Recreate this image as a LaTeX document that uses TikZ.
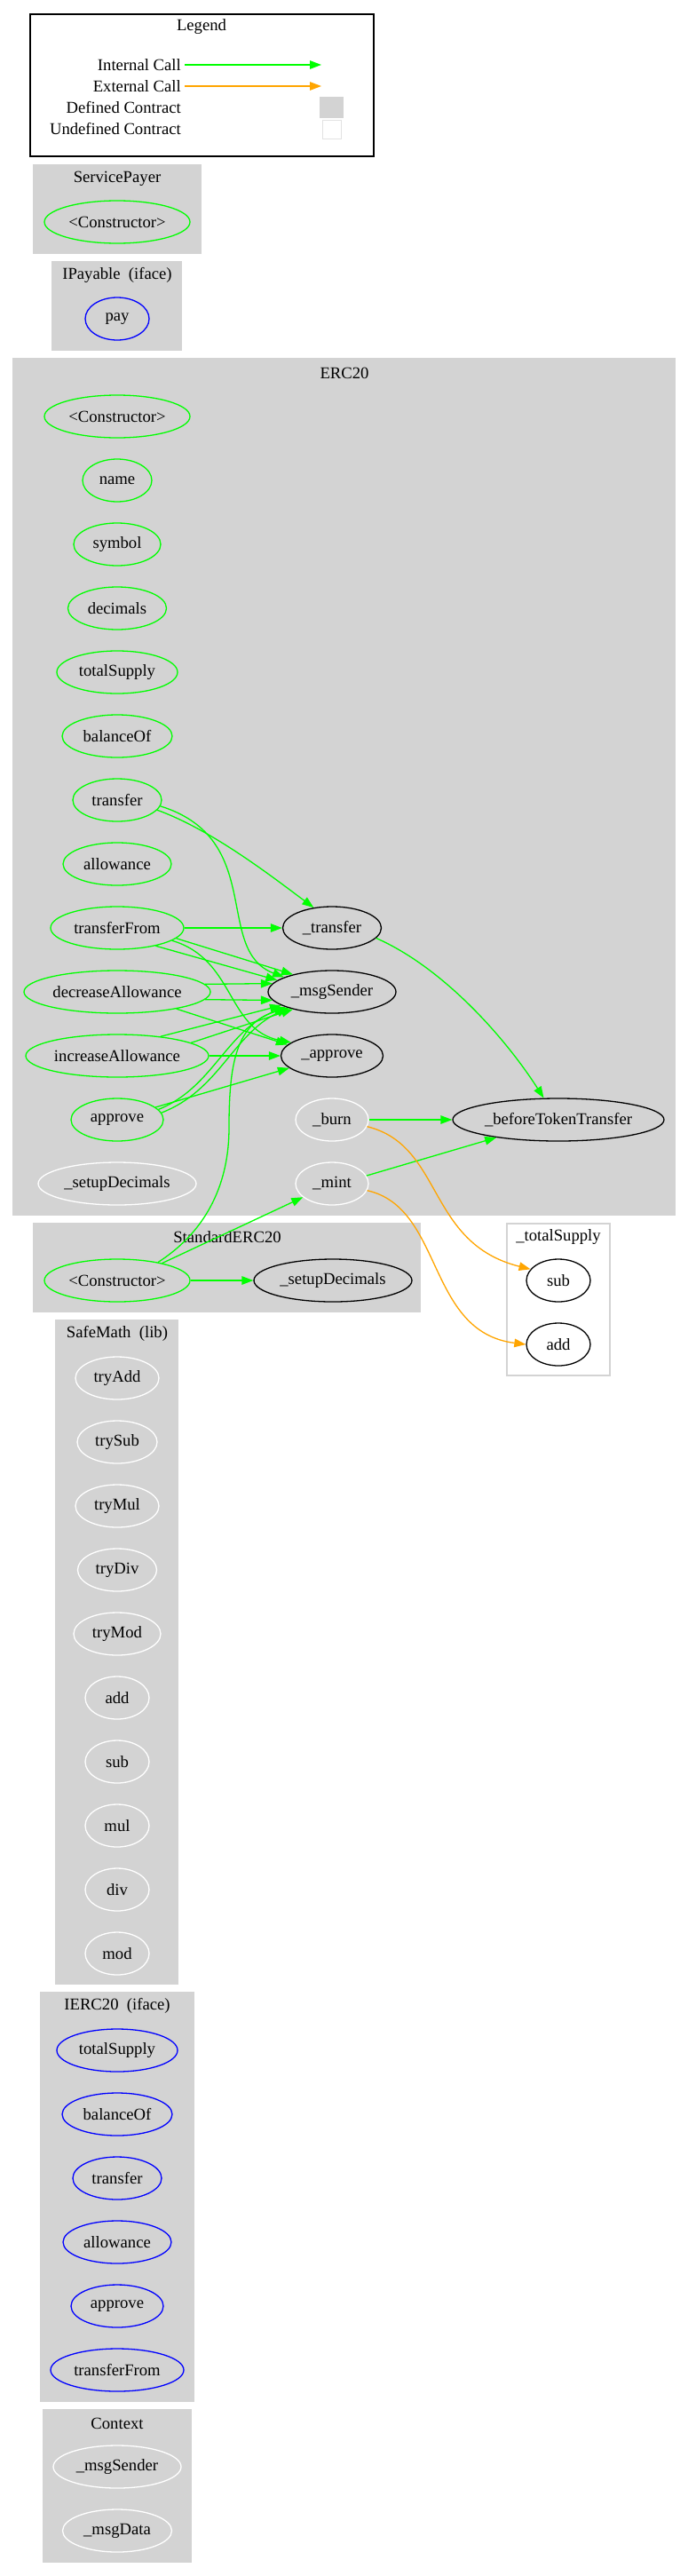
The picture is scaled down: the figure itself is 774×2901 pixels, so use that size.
\documentclass[tikz,border=0pt]{standalone}
\usepackage{fontspec}
\setmainfont{Liberation Serif}
\usetikzlibrary{shapes.geometric,arrows.meta}
\definecolor{gvgreen}{HTML}{00FF00}
\definecolor{gvorange}{HTML}{FFA500}
\definecolor{gvblue}{HTML}{0000FF}
\definecolor{gvgray}{HTML}{D3D3D3}
\definecolor{gvlight}{HTML}{E2E2E2}
\newcommand{\gvfont}{\fontsize{18.67pt}{22pt}\selectfont}
\begin{document}
\begin{tikzpicture}[x=1pt,y=-1pt,
  lbl/.style={font=\gvfont, inner sep=0pt},
  fn/.style={ellipse, draw, line width=1.3pt, inner sep=0pt, minimum height=48pt, font=\gvfont},
  fgreen/.style={fn, draw=gvgreen},
  fblue/.style={fn, draw=gvblue},
  fwhite/.style={fn, draw=white},
  fblack/.style={fn, draw=black},
  cluster/.style={fill=gvgray, draw=gvgray, line width=1.3pt},
  call/.style={line width=1.3pt, -{Triangle[length=13pt,width=9.5pt]}},
  icall/.style={call, draw=gvgreen},
  ecall/.style={call, draw=gvorange}]
\useasboundingbox (0,0) rectangle (774,2901);

% ---------------- Legend ----------------
\draw[line width=1.3pt] (34,16) rectangle (421,176);
\node[lbl] (legtitle) at (227,30) {Legend};
\node[lbl, anchor=east] (legint) at (204,73) {Internal Call};
\node[lbl, anchor=east] (legext) at (204,97) {External Call};
\node[lbl, anchor=east] (legdef) at (204,121) {Defined Contract};
\node[lbl, anchor=east] (legund) at (204,145) {Undefined Contract};
\coordinate (li1) at (208,73); \coordinate (li2) at (362,73);
\coordinate (le1) at (208,97); \coordinate (le2) at (362,97);
\draw[icall] (li1) -- (li2);
\draw[ecall] (le1) -- (le2);
\node[fill=gvgray, draw=gvgray, minimum width=26pt, minimum height=23pt, inner sep=0pt] (legdefbox) at (373.5,121) {};
\node[fill=white, draw=gvlight, line width=1.3pt, minimum width=21pt, minimum height=21pt, inner sep=0pt] (legundbox) at (374,146) {};

% ---------------- Clusters ----------------
\path[cluster] (38,186) rectangle (226,285);
\node[lbl] (tSP) at (132,201) {ServicePayer};
\path[cluster] (59,295) rectangle (204,394);
\node[lbl] (tIP) at (132,310) {IPayable\ \ (iface)};
\path[cluster] (15,404) rectangle (760,1368);
\node[lbl] (tERC) at (388,420) {ERC20};
\path[cluster] (38,1378) rectangle (473,1477);
\node[lbl] (tStd) at (256,1393) {StandardERC20};
\draw[fill=white, draw=gvgray, line width=1.3pt] (571,1378) rectangle (687,1549);
\node[lbl] (tTS) at (629,1393) {\_totalSupply};
\path[cluster] (63,1487) rectangle (200,2234);
\node[lbl] (tSM) at (132,1502) {SafeMath\ \ (lib)};
\path[cluster] (46,2244) rectangle (218,2704);
\node[lbl] (tIE) at (132,2259) {IERC20\ \ (iface)};
\path[cluster] (49,2714) rectangle (215,2885);
\node[lbl] (tCtx) at (132,2729) {Context};

% ---------------- Nodes ----------------
\node[fgreen, minimum width=164pt] (spCons) at (132,250) {\textless Constructor\textgreater};
\node[fblue, minimum width=72pt] (payPay) at (132,359) {pay};

\node[fgreen, minimum width=164pt] (eCons) at (132,469) {\textless Constructor\textgreater};
\node[fgreen, minimum width=78pt] (eName) at (132,541) {name};
\node[fgreen, minimum width=98pt] (eSymbol) at (132,613) {symbol};
\node[fgreen, minimum width=111pt] (eDecimals) at (132,685) {decimals};
\node[fgreen, minimum width=136pt] (eTotal) at (132,757) {totalSupply};
\node[fgreen, minimum width=124pt] (eBal) at (132,829) {balanceOf};
\node[fgreen, minimum width=100pt] (eTransfer) at (132,901) {transfer};
\node[fgreen, minimum width=122pt] (eAllow) at (132,973) {allowance};
\node[fgreen, minimum width=150pt] (eTF) at (132,1045) {transferFrom};
\node[fgreen, minimum width=210pt] (eDec) at (132,1117) {decreaseAllowance};
\node[fgreen, minimum width=206pt] (eInc) at (132,1189) {increaseAllowance};
\node[fgreen, minimum width=104pt] (eApprove) at (132,1261) {approve};
\node[fwhite, minimum width=178pt] (eSetup) at (132,1333) {\_setupDecimals};

\node[fblack, minimum width=111pt] (iTransfer) at (374,1045) {\_transfer};
\node[fblack, minimum width=144pt] (iMsg) at (374,1117) {\_msgSender};
\node[fblack, minimum width=115pt] (iApprove) at (374,1189) {\_approve};
\node[fwhite, minimum width=82pt] (iBurn) at (374,1261) {\_burn};
\node[fwhite, minimum width=82pt] (iMint) at (374,1333) {\_mint};
\node[fblack, minimum width=238pt] (iBefore) at (629,1261) {\_beforeTokenTransfer};

\node[fgreen, minimum width=164pt] (sCons) at (132,1442) {\textless Constructor\textgreater};
\node[fblack, minimum width=178pt] (sSetup) at (375,1442) {\_setupDecimals};

\node[fblack, minimum width=72pt] (tsSub) at (629,1442) {sub};
\node[fblack, minimum width=72pt] (tsAdd) at (629,1514) {add};

\node[fwhite, minimum width=94pt] (smTryAdd) at (132,1552) {tryAdd};
\node[fwhite, minimum width=90pt] (smTrySub) at (132,1624) {trySub};
\node[fwhite, minimum width=94pt] (smTryMul) at (132,1696) {tryMul};
\node[fwhite, minimum width=89pt] (smTryDiv) at (132,1768) {tryDiv};
\node[fwhite, minimum width=98pt] (smTryMod) at (132,1840) {tryMod};
\node[fwhite, minimum width=72pt] (smAdd) at (132,1912) {add};
\node[fwhite, minimum width=72pt] (smSub) at (132,1984) {sub};
\node[fwhite, minimum width=72pt] (smMul) at (132,2056) {mul};
\node[fwhite, minimum width=72pt] (smDiv) at (132,2128) {div};
\node[fwhite, minimum width=72pt] (smMod) at (132,2200) {mod};

\node[fblue, minimum width=136pt] (ifTotal) at (132,2309) {totalSupply};
\node[fblue, minimum width=124pt] (ifBal) at (132,2381) {balanceOf};
\node[fblue, minimum width=100pt] (ifTransfer) at (132,2453) {transfer};
\node[fblue, minimum width=122pt] (ifAllow) at (132,2525) {allowance};
\node[fblue, minimum width=104pt] (ifApprove) at (132,2597) {approve};
\node[fblue, minimum width=150pt] (ifTF) at (132,2669) {transferFrom};

\node[fwhite, minimum width=144pt] (ctxMsg) at (132,2778) {\_msgSender};
\node[fwhite, minimum width=123pt] (ctxData) at (132,2850) {\_msgData};

% ---------------- Edges ----------------
\draw[icall] (eTransfer.-14) .. controls (240,935) and (310,990) .. (iTransfer.132);
\draw[icall] (eTransfer.-8) .. controls (300,945) and (240,1070) .. (iMsg.163);
\draw[icall] (eTF) -- (iTransfer);
\draw[icall] (eTF.-10) -- (iMsg.156);
\draw[icall] (eTF.-25) -- (iMsg.168);
\draw[icall] (eTF.-13) .. controls (265,1080) and (255,1160) .. (iApprove.162);
\draw[icall] (eDec.5) -- (iMsg.172);
\draw[icall] (eDec.-5) -- (iMsg.188);
\draw[icall] (eDec.-16) -- (iApprove.166);
\draw[icall] (eInc.24) -- (iMsg.195);
\draw[icall] (eInc.10) -- (iMsg.204);
\draw[icall] (eInc) -- (iApprove);
\draw[icall] (eApprove.18) -- (iApprove.196);
\draw[icall] (eApprove.14) .. controls (240,1225) and (255,1160) .. (iMsg.198);
\draw[icall] (eApprove.9) .. controls (247,1228) and (262,1165) .. (iMsg.200);
\draw[icall] (sCons.24) .. controls (235,1385) and (258,1330) .. (258,1270) .. controls (258,1200) and (265,1150) .. (iMsg.201);
\draw[icall] (sCons.21) -- (iMint.205);
\draw[icall] (sCons) -- (sSetup);
\draw[icall] (iTransfer.-13) .. controls (500,1090) and (570,1170) .. (iBefore.124);
\draw[icall] (iBurn) -- (iBefore);
\draw[icall] (iMint.13) -- (iBefore.196);
\draw[ecall] (iBurn.-11) .. controls (500,1290) and (480,1400) .. (tsSub.158);
\draw[ecall] (iMint.-11) .. controls (500,1360) and (480,1500) .. (tsAdd.180);
\end{tikzpicture}
\end{document}
